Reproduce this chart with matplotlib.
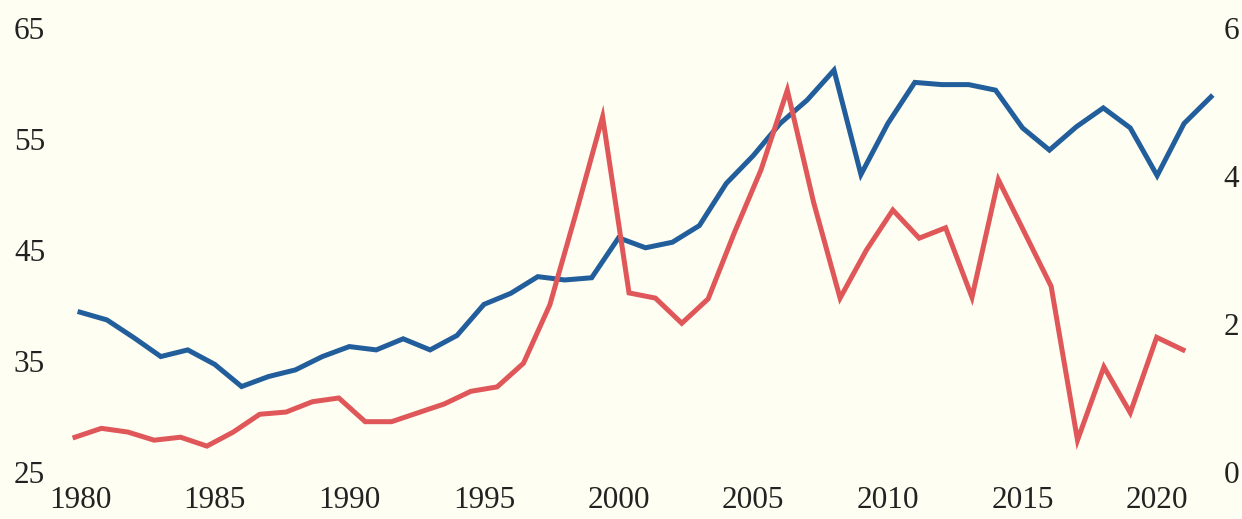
import numpy as np
import matplotlib.pyplot as plt

years = list(range(1980, 2023))

# left axis series (blue)
blue_vals = [39.4, 38.7, 37.1, 35.4, 36.0, 34.7, 32.7, 33.6, 34.2, 35.4,
             36.3, 36.0, 37.0, 36.0, 37.3, 40.1, 41.1, 42.6, 42.3, 42.5,
             46.1, 45.2, 45.7, 47.2, 51.0, 53.5, 56.4, 58.5, 61.2, 51.8,
             56.4, 60.1, 59.9, 59.9, 59.4, 56.0, 54.0, 56.1, 57.8, 56.0,
             51.7, 56.4, 58.8]

# right axis series (red)
red_vals = [0.47, 0.59, 0.54, 0.43, 0.47, 0.35, 0.54, 0.78, 0.81, 0.95,
            1.00, 0.68, 0.68, 0.80, 0.92, 1.09, 1.15, 1.47, 2.26, 3.51,
            4.80, 2.42, 2.35, 2.01, 2.34, 3.24, 4.08, 5.16, 3.64, 2.35,
            3.00, 3.54, 3.16, 3.30, 2.36, 3.95, 3.23, 2.51, 0.43, 1.42,
            0.80, 1.82, 1.65]

left_ticks = [25, 35, 45, 55, 65]
right_ticks = [0, 2, 4, 6]
x_ticks = [1980, 1985, 1990, 1995, 2000, 2005, 2010, 2015, 2020]

bg = '#fefef2'
blue = '#225e9b'
red = '#e05759'
txt = '#222222'
font = 'Liberation Serif'
fs = 22.5

fig = plt.figure(figsize=(12.42, 5.19), dpi=100, facecolor=bg)
rect = [75 / 1242, 47 / 519, 1136 / 1242, 444 / 519]

ax = fig.add_axes(rect, facecolor=bg)
ax.plot(years, blue_vals, color=blue, lw=3.6, clip_on=False,
        solid_joinstyle='miter')
ax.set_xlim(1979.814, 2022.0)
ax.set_ylim(25, 65)
ax.set_yticks(left_ticks)
ax.set_xticks(x_ticks)
ax.tick_params(axis='y', length=0, pad=44, labelsize=fs, labelcolor=txt)
ax.tick_params(axis='x', length=0, pad=10, labelsize=fs, labelcolor=txt)
for lab in ax.get_yticklabels():
    lab.set_horizontalalignment('left')
for lab in ax.get_yticklabels() + ax.get_xticklabels():
    lab.set_fontfamily(font)
for s in ax.spines.values():
    s.set_visible(False)

ax2 = fig.add_axes(rect, frameon=False)
ax2.patch.set_visible(False)
ax2.plot(years, red_vals, color=red, lw=3.6, clip_on=False,
         solid_joinstyle='miter')
ax2.set_xlim(1980, 2023.06)
ax2.set_ylim(0, 6)
ax2.set_xticks([])
ax2.yaxis.tick_right()
ax2.set_yticks(right_ticks)
ax2.tick_params(axis='y', length=0, pad=9, labelsize=fs, labelcolor=txt)
for lab in ax2.get_yticklabels():
    lab.set_fontfamily(font)

fig.savefig('out.png', dpi=100, facecolor=bg)
